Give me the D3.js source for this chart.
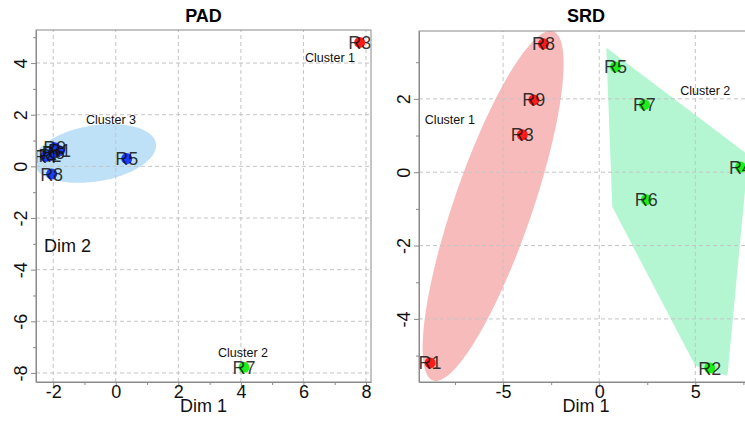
<!DOCTYPE html>
<html>
<head>
<meta charset="utf-8">
<script src="https://cdn.jsdelivr.net/npm/d3@7"></script>
<style>
  body { margin: 0; background: #fff; }
  text { font-family: "Liberation Sans", Arial, sans-serif; }
</style>
</head>
<body>
<div class="chart"></div>
<script>

const FRAME_WIDTH = 745;
const FRAME_HEIGHT = 421;

// PAD panel data
const PAD_LABELS = ["R9", "R1", "R6", "R2", "R4", "R8", "R5", "R3", "R7"];
const PAD_X = [-1.95, -1.8, -2.0, -2.1, -2.25, -2.05, 0.35, 7.8, 4.1];
const PAD_Y = [0.72, 0.6, 0.55, 0.42, 0.38, -0.3, 0.3, 4.8, -7.78];
const PAD_CLUSTER = [3, 3, 3, 3, 3, 3, 3, 1, 2];
const PAD_X_TICKS = [-2, 0, 2, 4, 6, 8];
const PAD_Y_TICKS = [-8, -6, -4, -2, 0, 2, 4];
const PAD_CLUSTER_NAMES = ["Cluster 1", "Cluster 2", "Cluster 3"];
const PAD_CLUSTER_LX = [6.85, 4.07, -0.15];
const PAD_CLUSTER_LY = [4.2, -7.2, 1.8];

// SRD panel data
const SRD_LABELS = ["R8", "R9", "R3", "R1", "R5", "R7", "R4", "R6", "R2"];
const SRD_X = [-2.9, -3.4, -4.0, -8.8, 0.85, 2.35, 7.35, 2.45, 5.75];
const SRD_Y = [3.5, 1.97, 1.02, -5.2, 2.87, 1.84, 0.14, -0.75, -5.34];
const SRD_CLUSTER = [1, 1, 1, 1, 2, 2, 2, 2, 2];
const SRD_X_TICKS = [-5, 0, 5];
const SRD_Y_TICKS = [-4, -2, 0, 2];
const SRD_CLUSTER_NAMES = ["Cluster 1", "Cluster 2"];
const SRD_CLUSTER_LX = [-7.77, 5.52];
const SRD_CLUSTER_LY = [1.45, 2.22];
// cluster 2 hull corners
const SRD_HULL_X = [0.37, 7.76, 6.67, 5.0, 0.68];
const SRD_HULL_Y = [3.39, 0.47, -5.55, -5.28, -0.945];

const POINT_COLORS = {1: "#ff1a1a", 2: "#1aef1a", 3: "#1a3cff"};

const SVG = d3.select(".chart")
    .append("svg")
    .attr("width", FRAME_WIDTH)
    .attr("height", FRAME_HEIGHT);

function ellipsePoints(cx, cy, ux, uy, vx, vy) {
    let pts = [];
    for (let i = 0; i < 120; i++) {
        let t = i / 120 * 2 * Math.PI;
        pts.push([cx + ux * Math.cos(t) + vx * Math.sin(t),
                  cy + uy * Math.cos(t) + vy * Math.sin(t)]);
    }
    return pts;
}

function drawPanel(opt) {
    const X = d3.scaleLinear().domain(opt.xDomain).range(opt.xRange);
    const Y = d3.scaleLinear().domain(opt.yDomain).range(opt.yRange);
    const g = SVG.append("g");

    const clipId = "clip-" + opt.title;
    g.append("clipPath").attr("id", clipId)
        .append("rect")
        .attr("x", opt.xRange[0]).attr("y", opt.yRange[1])
        .attr("width", opt.xRange[1] - opt.xRange[0])
        .attr("height", opt.yRange[0] - opt.yRange[1]);

    const plot = g.append("g").attr("clip-path", "url(#" + clipId + ")");

    // cluster shapes
    opt.shapes.forEach((s) => {
        plot.append("path")
            .attr("d", d3.line().x((d) => X(d[0])).y((d) => Y(d[1]))(s.pts) + "Z")
            .attr("fill", s.color)
            .attr("fill-opacity", 0.5)
            .attr("stroke", "none");
    });

    // grid
    plot.selectAll(".vgrid").data(opt.xTicks).enter().append("line")
        .attr("x1", (d) => X(d)).attr("x2", (d) => X(d))
        .attr("y1", opt.yRange[0]).attr("y2", opt.yRange[1])
        .attr("stroke", "#c4c4c4").attr("stroke-dasharray", "4,3");
    plot.selectAll(".hgrid").data(opt.yTicks).enter().append("line")
        .attr("y1", (d) => Y(d)).attr("y2", (d) => Y(d))
        .attr("x1", opt.xRange[0]).attr("x2", opt.xRange[1])
        .attr("stroke", "#c4c4c4").attr("stroke-dasharray", "4,3");

    // points
    plot.selectAll(".pt").data(opt.labels).enter().append("circle")
        .attr("cx", (d, i) => X(opt.xs[i]))
        .attr("cy", (d, i) => Y(opt.ys[i]))
        .attr("r", 5.5)
        .attr("fill", (d, i) => POINT_COLORS[opt.clusters[i]]);

    plot.selectAll(".lab").data(opt.labels).enter().append("text")
        .attr("x", (d, i) => X(opt.xs[i]))
        .attr("y", (d, i) => Y(opt.ys[i]) + 6.5)
        .attr("text-anchor", "middle")
        .attr("font-size", "18px")
        .attr("fill", "#111")
        .attr("fill-opacity", 0.85)
        .text((d) => d);

    // cluster names
    plot.selectAll(".cl").data(opt.clusterNames).enter().append("text")
        .attr("x", (d, i) => X(opt.clusterLX[i]))
        .attr("y", (d, i) => Y(opt.clusterLY[i]) + 4.5)
        .attr("text-anchor", "middle")
        .attr("font-size", "12.5px")
        .attr("fill", "#111")
        .text((d) => d);

    // border
    g.append("rect")
        .attr("x", opt.xRange[0]).attr("y", opt.yRange[1])
        .attr("width", opt.xRange[1] - opt.xRange[0])
        .attr("height", opt.yRange[0] - opt.yRange[1])
        .attr("fill", "none").attr("stroke", "#8a8a8a");

    // axes
    const fmt = (d) => String(d);
    const xAxis = g.append("g")
        .attr("transform", "translate(0," + opt.yRange[0] + ")")
        .call(d3.axisBottom(X).tickValues(opt.xTicks).tickSize(5).tickSizeOuter(0)
            .tickPadding(-2).tickFormat(fmt));
    g.append("g")
        .attr("transform", "translate(0," + opt.yRange[0] + ")")
        .call(d3.axisBottom(X).tickValues(opt.xMinor).tickSize(3).tickSizeOuter(0).tickFormat(""))
        .select(".domain").remove();
    const yAxis = g.append("g")
        .attr("transform", "translate(" + opt.xRange[0] + ",0)")
        .call(d3.axisLeft(Y).tickValues(opt.yTicks).tickSize(5).tickSizeOuter(0).tickFormat(fmt));
    g.append("g")
        .attr("transform", "translate(" + opt.xRange[0] + ",0)")
        .call(d3.axisLeft(Y).tickValues(opt.yMinor).tickSize(3).tickSizeOuter(0).tickFormat(""))
        .select(".domain").remove();

    g.selectAll(".domain").attr("stroke", "#8a8a8a");
    g.selectAll(".tick line").attr("stroke", "#8a8a8a");
    xAxis.selectAll("text").attr("font-size", "18px").attr("fill", "#111")
        .attr("font-family", "Liberation Sans, Arial, sans-serif");
    yAxis.selectAll("text")
        .attr("font-size", "18px").attr("fill", "#111")
        .attr("font-family", "Liberation Sans, Arial, sans-serif")
        .attr("text-anchor", "middle")
        .attr("x", 0).attr("y", 0).attr("dy", 0)
        .attr("transform", "translate(-9,0) rotate(-90)");

    const midX = (opt.xRange[0] + opt.xRange[1]) / 2;
    g.append("text")
        .attr("x", midX).attr("y", 22)
        .attr("text-anchor", "middle")
        .attr("font-size", "18px").attr("font-weight", "bold")
        .text(opt.title);
    g.append("text")
        .attr("x", midX).attr("y", 412)
        .attr("text-anchor", "middle")
        .attr("font-size", "18px").attr("fill", "#111")
        .text("Dim 1");
    if (opt.dim2) {
        g.append("text")
            .attr("x", opt.dim2[0]).attr("y", opt.dim2[1])
            .attr("font-size", "18px").attr("fill", "#111")
            .text("Dim 2");
    }
}

// PAD
drawPanel({
    title: "PAD",
    xDomain: [-2.55, 8.16], xRange: [36, 371],
    yDomain: [-8.35, 5.28], yRange: [382, 30],
    xTicks: PAD_X_TICKS, yTicks: PAD_Y_TICKS,
    xMinor: [-1, 1, 3, 5, 7], yMinor: [-7, -5, -3, -1, 1, 3, 5],
    labels: PAD_LABELS, xs: PAD_X, ys: PAD_Y, clusters: PAD_CLUSTER,
    clusterNames: PAD_CLUSTER_NAMES, clusterLX: PAD_CLUSTER_LX, clusterLY: PAD_CLUSTER_LY,
    shapes: [{color: "#7ec4f2", pts: ellipsePoints(-0.666, 0.5, 1.95, 0.39, 0.147, -1.07)}],
    dim2: [44, 252]
});

// SRD
drawPanel({
    title: "SRD",
    xDomain: [-9.375, 8.0], xRange: [419, 753],
    yDomain: [-5.72, 3.85], yRange: [382, 31],
    xTicks: SRD_X_TICKS, yTicks: SRD_Y_TICKS,
    xMinor: [-7.5, -2.5, 2.5, 7.5], yMinor: [-5, -3, -1, 1, 3],
    labels: SRD_LABELS, xs: SRD_X, ys: SRD_Y, clusters: SRD_CLUSTER,
    clusterNames: SRD_CLUSTER_NAMES, clusterLX: SRD_CLUSTER_LX, clusterLY: SRD_CLUSTER_LY,
    shapes: [
        {color: "#f07878", pts: ellipsePoints(-5.52, -0.92, 3.125, 4.76, 1.92, -0.346)},
        {color: "#6aeea6", pts: SRD_HULL_X.map((x, i) => [x, SRD_HULL_Y[i]])}
    ],
    dim2: null
});

</script>
</body>
</html>
